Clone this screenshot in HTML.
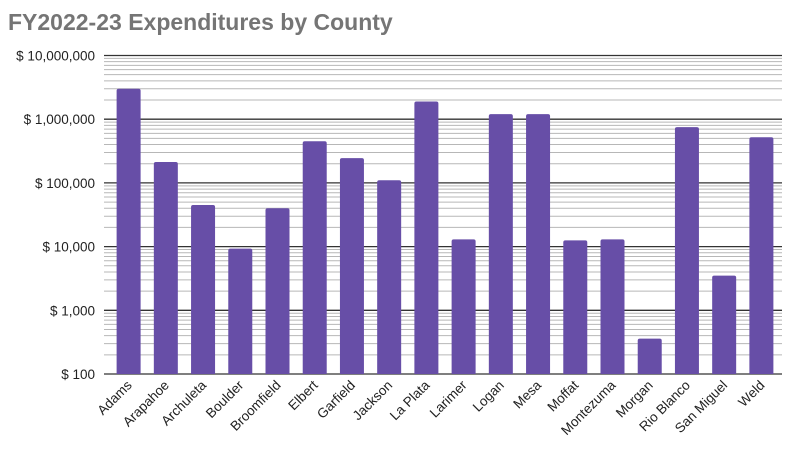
<!DOCTYPE html>
<html><head><meta charset="utf-8"><style>
body{margin:0;background:#fff;}
svg{display:block;font-family:"Liberation Sans",Arial,sans-serif;}
</style></head><body>
<svg id="chart" width="792" height="471">
<text x="8" y="30" font-size="23" font-weight="bold" fill="#757575">FY2022-23 Expenditures by County</text>
<g id="grid"></g><g id="yl"></g><g id="bars"></g><g id="xl"></g>
</svg>
<script>
const categories=["Adams","Arapahoe","Archuleta","Boulder","Broomfield","Elbert","Garfield","Jackson","La Plata","Larimer","Logan","Mesa","Moffat","Montezuma","Morgan","Rio Blanco","San Miguel","Weld"];
const values=[3000000,213000,45000,9300,40000,450000,245000,110000,1900000,13000,1200000,1200000,12500,13000,360,750000,3500,520000];
const tickValues=[100,1000,10000,100000,1000000,10000000];
const tickLabels=["$ 100","$ 1,000","$ 10,000","$ 100,000","$ 1,000,000","$ 10,000,000"];
const NS="http://www.w3.org/2000/svg";
const L=104,R=782,T=55.5,B=374,x0=110,x1=780;
function y(v){return B-(Math.log10(v)-2)/5*(B-T);}
const bw=(x1-x0)/categories.length;
function xc(i){return x0+bw*(i+0.5);}
function mk(p,tag,a){const e=document.createElementNS(NS,tag);for(const k in a)e.setAttribute(k,a[k]);p.appendChild(e);return e;}
const g=document.getElementById('grid');
for(let d=2;d<7;d++){for(let m=2;m<10;m++){const yy=y(m*Math.pow(10,d));
const ln=mk(g,'line',{x1:L,x2:R,y1:yy,y2:yy,stroke:'#b7b7b7','stroke-width':1});

}}
const yl=document.getElementById('yl');
tickValues.forEach((v,i)=>{const yy=y(v);
const ln=mk(g,'line',{x1:L,x2:R,y1:yy,y2:yy,stroke:'#333','stroke-width':1.3});


const t=mk(yl,'text',{x:95,y:yy+5,'text-anchor':'end','font-size':13.5,fill:'#222'});t.textContent=tickLabels[i];

});
const bg=document.getElementById('bars'),xl=document.getElementById('xl');
categories.forEach((c,i)=>{const cx=xc(i),w=24,top=y(values[i]);
const r=mk(bg,'path',{d:`M${cx-w/2},${B} V${top+2} Q${cx-w/2},${top} ${cx-w/2+2},${top} H${cx+w/2-2} Q${cx+w/2},${top} ${cx+w/2},${top+2} V${B} Z`,fill:'#674ea7'});


const t=mk(xl,'text',{x:cx+4,y:386,'text-anchor':'end','font-size':13.5,fill:'#222',transform:`rotate(-45 ${cx+4} 386)`});t.textContent=c;

});
</script>
</body></html>
